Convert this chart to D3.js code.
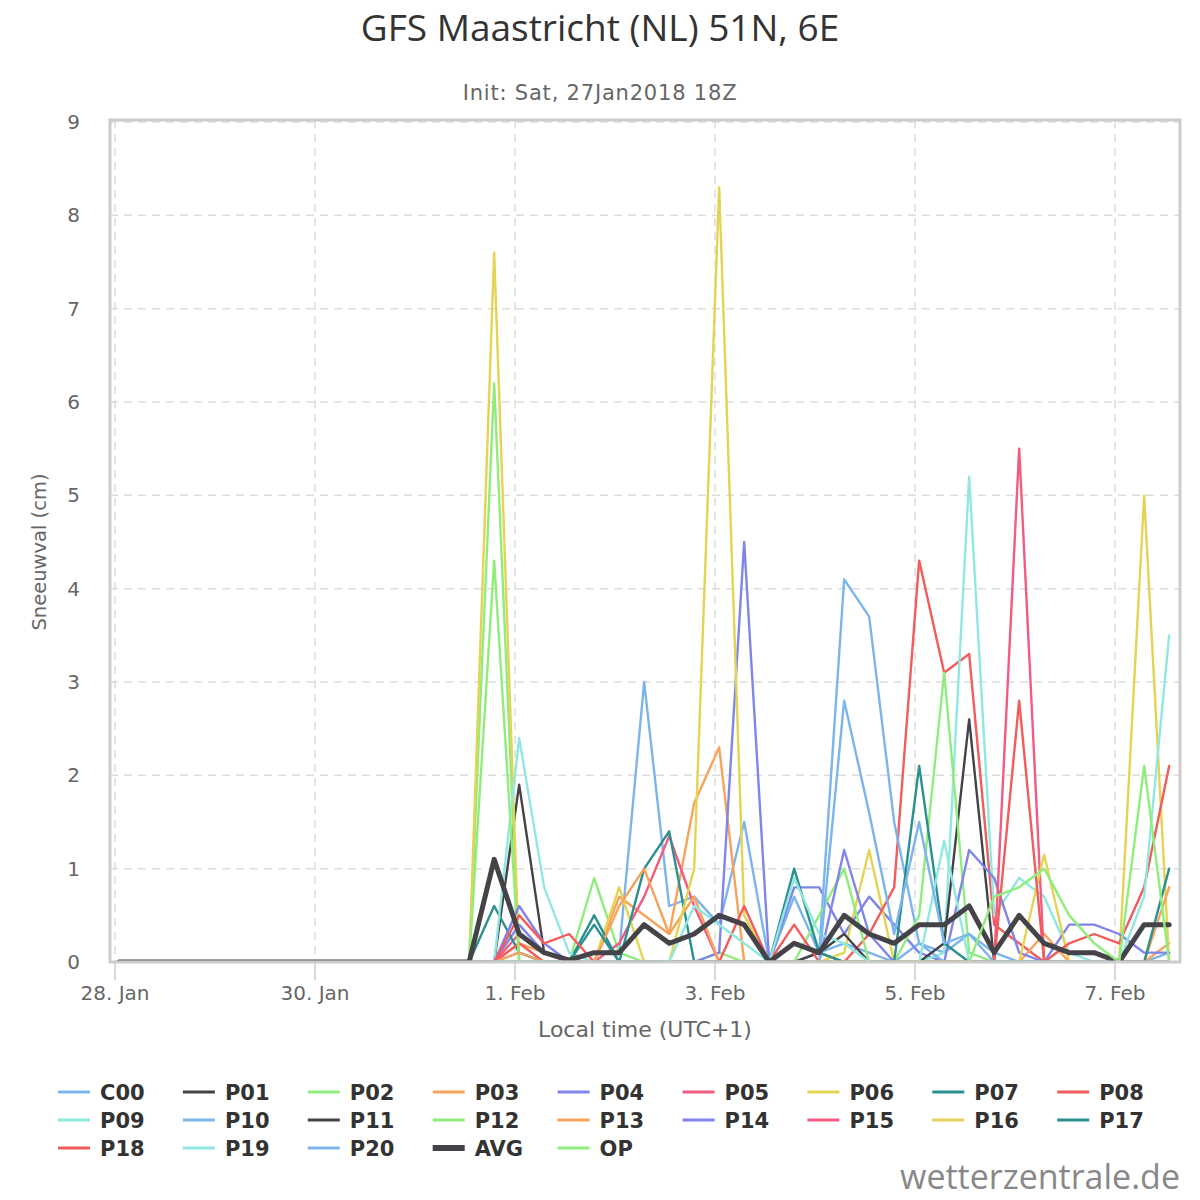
<!DOCTYPE html>
<html>
<head>
<meta charset="utf-8">
<script src="https://cdn.jsdelivr.net/npm/d3@7"></script>
<style>
  body { margin: 0; background: #fff; }
  text { font-family: "DejaVu Sans", sans-serif; }
</style>
</head>
<body>
<div id="chart"></div>
<script>
// snowfall per 6h step, 28 Jan 01:00 .. 7 Feb 13:00 local time
const C00 = [0,0,0,0,0,0,0,0,0,0,0,0,0,0,0, 0,0.1,0,0,0.1,0.1,3.0,0.6,0.7,0.4,1.5,0,0.7,0.1,0.2,0.1,0,0.2,0.1,0.3,0.1,0,0,0,0,0,0,0.1];
const P01 = [0,0,0,0,0,0,0,0,0,0,0,0,0,0,0, 0,1.9,0.1,0,0,0,0,0,0,0,0,0,0,0.1,0,0,0,0,0,0,0,0,0,0,0,0,0,0];
const P02 = [0,0,0,0,0,0,0,0,0,0,0,0,0,0,0, 6.2,0,0,0,0.9,0.1,0,0,0,0.1,0,0,0,0,0,0,0,0,0,0,0,0,0,0,0,0,0,0];
const P03 = [0,0,0,0,0,0,0,0,0,0,0,0,0,0,0, 0,0.2,0.1,0,0,0.7,0.5,0.3,1.7,2.3,0,0,0,0,0,0,0,0,0,0,0,0,0,0,0,0,0,0.2];
const P04 = [0,0,0,0,0,0,0,0,0,0,0,0,0,0,0, 0,0.4,0.1,0,0,0,0,0,0,0.1,4.5,0,0.8,0.8,0.3,0.7,0.4,0.1,0,0,0,0,0,0,0,0,0,0];
const P05 = [0,0,0,0,0,0,0,0,0,0,0,0,0,0,0, 0,0.3,0.1,0,0,0.2,0.7,1.35,0.6,0,0,0,0,0,0,0,0,0,0,0,0,0,0,0,0,0,0,0];
const P06 = [0,0,0,0,0,0,0,0,0,0,0,0,0,0,0, 7.6,0,0,0,0,0.8,0,0,0,0,0,0,0,0,0.1,1.2,0,0,0,0,0,0,0,0,0,0,5.0,0];
const P07 = [0,0,0,0,0,0,0,0,0,0,0,0,0,0,0, 0.6,0.1,0,0,0.5,0,1.0,1.4,0,0,0,0,0,0,0,0,0,0,0,0,0,0,0,0,0,0,0,0];
const P08 = [0,0,0,0,0,0,0,0,0,0,0,0,0,0,0, 0,0.2,0,0,0,0,0,0,0,0,0,0,0,0,0,0.3,0.8,4.3,3.1,3.3,0.4,0.2,0,0,0,0,0,0];
const P09 = [0,0,0,0,0,0,0,0,0,0,0,0,0,0,0, 0,2.4,0.8,0.1,0,0,0,0,0,0,0,0,0,0,0,0,0,0,0.1,5.2,0.5,0.9,0.7,0.1,0,0,0,0];
const P10 = [0,0,0,0,0,0,0,0,0,0,0,0,0,0,0, 0,0,0,0,0,0,0,0,0,0,0,0,0,0.1,4.1,3.7,1.5,0.2,0,0,0,0,0,0,0,0,0,0];
const P11 = [0,0,0,0,0,0,0,0,0,0,0,0,0,0,0, 0,0,0,0,0,0,0,0,0,0,0,0,0,0.1,0.3,0,0,0,0.2,2.6,0,0,0,0,0,0,0,0];
const P12 = [0,0,0,0,0,0,0,0,0,0,0,0,0,0,0, 4.3,0,0,0,0,0,0,0,0,0,0,0,0,0.5,1.0,0,0,0.5,3.1,0.1,0,0,0,0,0,0,0,0];
const P13 = [0,0,0,0,0,0,0,0,0,0,0,0,0,0,0, 0,0.1,0,0,0,0.6,1.0,0.3,0.7,0,0,0,0,0,0,0,0,0,0,0,0,0,0.3,0,0,0,0,0.8];
const P14 = [0,0,0,0,0,0,0,0,0,0,0,0,0,0,0, 0,0.6,0.2,0,0,0,0,0,0,0,0,0,0,0,1.2,0.3,0,0,0,1.2,0.9,0.1,0,0.4,0.4,0.3,0.1,0.1];
const P15 = [0,0,0,0,0,0,0,0,0,0,0,0,0,0,0, 0,0,0,0,0,0,0,0,0,0,0,0,0,0,0,0,0,0,0,0,0,5.5,0,0,0,0,0,0];
const P16 = [0,0,0,0,0,0,0,0,0,0,0,0,0,0,0, 0,0,0,0,0,0,0,0,1.0,8.3,0.5,0,0,0,0,0,0,0,0,0,0,0,1.15,0,0,0,0,0];
const P17 = [0,0,0,0,0,0,0,0,0,0,0,0,0,0,0, 0,0,0,0,0.4,0,0,0,0,0,0,0,1.0,0.1,0,0,0,2.1,0.2,0,0,0,0,0,0,0,0,1.0];
const P18 = [0,0,0,0,0,0,0,0,0,0,0,0,0,0,0, 0,0.5,0.2,0.3,0,0,0,0,0,0,0.6,0,0.4,0,0,0,0,0,0,0,0,2.8,0,0.2,0.3,0.2,0.8,2.1];
const P19 = [0,0,0,0,0,0,0,0,0,0,0,0,0,0,0, 0,0,0,0,0,0,0,0,0.6,0.4,0.2,0,0.9,0.3,0.2,0,0,0,1.3,0,0,0,0,0,0,0,0.7,3.5];
const P20 = [0,0,0,0,0,0,0,0,0,0,0,0,0,0,0, 0,0,0,0,0,0,0,0,0,0,0,0,0,0,2.8,1.6,0.3,1.5,0.2,0.3,0,0,0,0,0,0,0,0];
const AVG = [0,0,0,0,0,0,0,0,0,0,0,0,0,0,0, 1.1,0.3,0.1,0.02,0.1,0.1,0.4,0.2,0.3,0.5,0.4,0,0.2,0.1,0.5,0.3,0.2,0.4,0.4,0.6,0.1,0.5,0.2,0.1,0.1,0,0.4,0.4];
const OP  = [0,0,0,0,0,0,0,0,0,0,0,0,0,0,0, 0,0,0,0,0,0,0,0,0,0,0,0,0,0,0,0,0,0,0,0,0.7,0.8,1.0,0.5,0.2,0,2.1,0];

const seriesNames = ["C00","P01","P02","P03","P04","P05","P06","P07","P08","P09",
  "P10","P11","P12","P13","P14","P15","P16","P17","P18","P19","P20","AVG","OP"];
const seriesValues = [C00,P01,P02,P03,P04,P05,P06,P07,P08,P09,
  P10,P11,P12,P13,P14,P15,P16,P17,P18,P19,P20,AVG,OP];

const yTicks = [0,1,2,3,4,5,6,7,8,9];
const xTickDates = [Date.UTC(2018,0,28), Date.UTC(2018,0,30), Date.UTC(2018,1,1),
  Date.UTC(2018,1,3), Date.UTC(2018,1,5), Date.UTC(2018,1,7)];
const xTickLabels = ["28. Jan","30. Jan","1. Feb","3. Feb","5. Feb","7. Feb"];

const palette = ["#7cb5ec","#434348","#90ed7d","#f7a35c","#8085e9",
  "#f15c80","#e4d354","#2b908f","#f45b5b","#91e8e1"];

// 6-hourly steps starting at 01:00 local
const times = d3.utcHour.range(new Date(Date.UTC(2018,0,28,1)), new Date(Date.UTC(2018,1,7,14)), 6);

const W = 1200, H = 1200;
const plot = {left: 110, top: 120, right: 1180, bottom: 962};

const svg = d3.select("#chart").append("svg")
  .attr("width", W).attr("height", H);

svg.append("rect").attr("width", W).attr("height", H).attr("fill", "#fff");

const x = d3.scaleUtc()
  .domain([Date.UTC(2018,0,28), Date.UTC(2018,1,7)])
  .range([115, 1115]);

const y = d3.scaleLinear()
  .domain([0, 9])
  .range([plot.bottom, plot.top + 2]);

// titles
svg.append("text").attr("x", 600).attr("y", 41).attr("text-anchor", "middle")
  .style("font-family", "'Open Sans', sans-serif")
  .style("font-size", "37px").style("fill", "#333")
  .text("GFS Maastricht (NL) 51N, 6E");
svg.append("text").attr("x", 600).attr("y", 100).attr("text-anchor", "middle")
  .style("font-size", "21px").style("letter-spacing", "0.8px").style("fill", "#666")
  .text("Init: Sat, 27Jan2018 18Z");

// grid
const grid = svg.append("g");
grid.selectAll("line.h").data(yTicks.slice(1)).enter().append("line")
  .attr("x1", plot.left).attr("x2", plot.right)
  .attr("y1", d => y(d)).attr("y2", d => y(d))
  .attr("stroke", "#ddd").attr("stroke-width", 1.5).attr("stroke-dasharray", "8,6");
grid.selectAll("line.v").data(xTickDates).enter().append("line")
  .attr("x1", d => x(d)).attr("x2", d => x(d))
  .attr("y1", plot.top).attr("y2", plot.bottom)
  .attr("stroke", "#ddd").attr("stroke-width", 1.5).attr("stroke-dasharray", "8,6");

// y labels
svg.append("g").selectAll("text").data(yTicks).enter().append("text")
  .attr("x", 80).attr("y", d => y(d) + 7).attr("text-anchor", "end")
  .style("font-size", "20px").style("fill", "#666")
  .text(d => d);

svg.append("text")
  .attr("transform", "translate(46,552) rotate(-90)")
  .attr("text-anchor", "middle")
  .style("font-size", "19.5px").style("fill", "#666")
  .text("Sneeuwval (cm)");

// x ticks + labels
svg.append("g").selectAll("line").data(xTickDates).enter().append("line")
  .attr("x1", d => x(d)).attr("x2", d => x(d))
  .attr("y1", plot.bottom).attr("y2", plot.bottom + 18)
  .attr("stroke", "#ccc").attr("stroke-width", 1.5);
svg.append("g").selectAll("text").data(xTickDates).enter().append("text")
  .attr("x", d => x(d)).attr("y", 1000).attr("text-anchor", "middle")
  .style("font-size", "20px").style("fill", "#666")
  .text((d, i) => xTickLabels[i]);

svg.append("text").attr("x", 645).attr("y", 1037).attr("text-anchor", "middle")
  .style("font-size", "22px").style("fill", "#666")
  .text("Local time (UTC+1)");

// lines
svg.append("clipPath").attr("id", "clip").append("rect")
  .attr("x", plot.left).attr("y", plot.top)
  .attr("width", plot.right - plot.left).attr("height", plot.bottom - plot.top);

const line = d3.line()
  .x((d, i) => x(times[i]))
  .y(d => y(d));

const colorOf = i => seriesNames[i] === "AVG" ? "#434348"
  : seriesNames[i] === "OP" ? "#90ed7d" : palette[i % 10];

svg.append("g").attr("clip-path", "url(#clip)")
  .selectAll("path").data(seriesValues).enter().append("path")
  .attr("d", line)
  .attr("fill", "none")
  .attr("stroke", (d, i) => colorOf(i))
  .attr("stroke-width", (d, i) => seriesNames[i] === "AVG" ? 5 : 2.4)
  .attr("stroke-linejoin", "round")
  .attr("stroke-linecap", "round");

// plot border
svg.append("rect")
  .attr("x", plot.left).attr("y", plot.top)
  .attr("width", plot.right - plot.left).attr("height", plot.bottom - plot.top)
  .attr("fill", "none").attr("stroke", "#ccc").attr("stroke-width", 3);

// legend
const legend = svg.append("g").selectAll("g").data(seriesNames).enter().append("g")
  .attr("transform", (d, i) => "translate(" + (58 + (i % 9) * 124.9) + "," + (1092 + Math.floor(i / 9) * 28) + ")");
legend.append("line")
  .attr("x1", 0).attr("x2", 32).attr("y1", 0).attr("y2", 0)
  .attr("stroke", (d, i) => colorOf(i))
  .attr("stroke-width", d => d === "AVG" ? 6 : 3);
legend.append("text")
  .attr("x", 42).attr("y", 8)
  .style("font-size", "21px").style("font-weight", "bold").style("fill", "#333")
  .text(d => d);

// watermark
svg.append("text").attr("x", 1180).attr("y", 1189).attr("text-anchor", "end")
  .style("font-family", "'Open Sans', sans-serif")
  .style("font-size", "34px").style("fill", "#888")
  .text("wetterzentrale.de");
</script>
</body>
</html>
